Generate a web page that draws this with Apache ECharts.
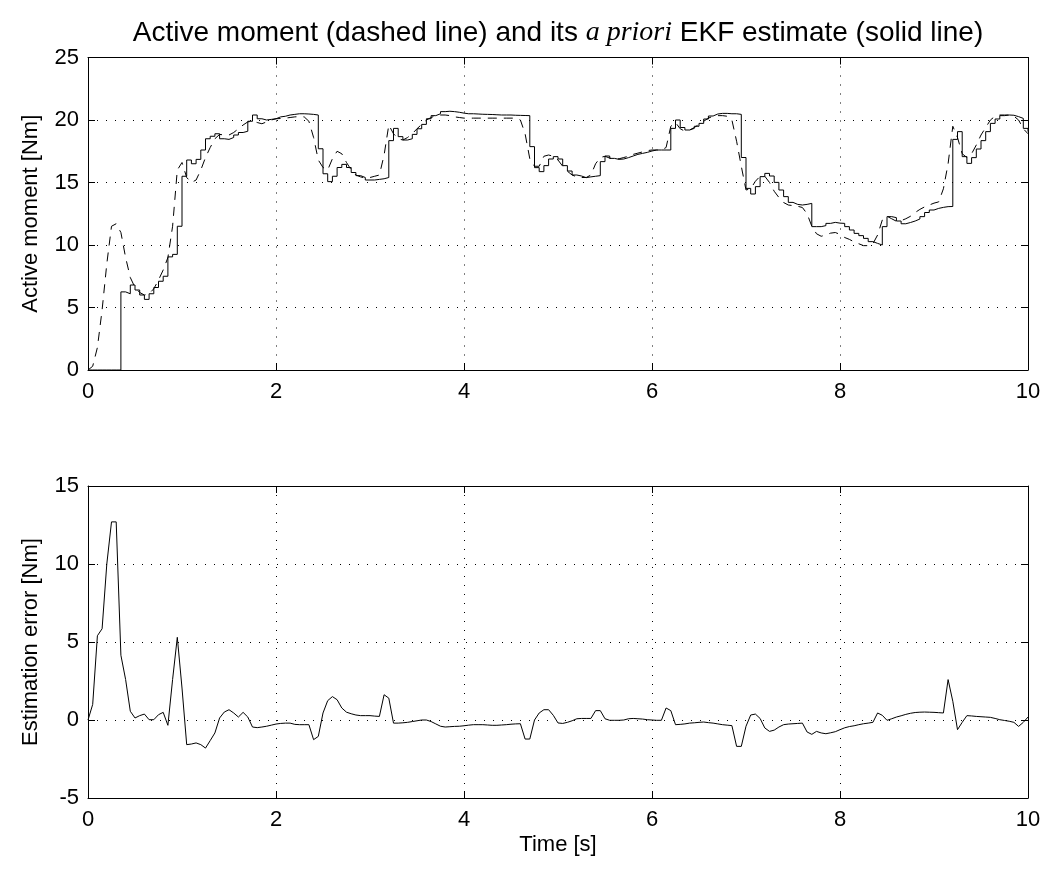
<!DOCTYPE html>
<html>
<head>
<meta charset="utf-8">
<script src="https://cdn.jsdelivr.net/npm/echarts@6/dist/echarts.min.js"></script>
<style>
html,body{margin:0;padding:0;background:#fff;}
#chart{width:1048px;height:872px;}
</style>
</head>
<body>
<div id="chart"></div>
<script>
// sample period of the data [s]
var dt = 0.05;
var xTicks = [0, 2, 4, 6, 8, 10];

// a priori EKF estimate (solid, staircase), samples at t = 0, 0.05, ..., 10
var estimate = [
  0,0,0,0,0,0,0,6.25,6.1,6.8,6.4,6.0,5.65,6.1,6.6,7.1,7.5,9.05,9.25,11.5,
  15.5,16.8,16.5,16.85,17.6,18.5,18.7,18.9,18.5,18.45,18.6,18.8,19.0,19.1,19.9,20.4,20.1,20.0,20.05,20.1,
  20.25,20.3,20.4,20.45,20.5,20.5,20.48,20.45,20.4,17.7,15.7,15.07,15.5,16.2,16.45,16.2,15.8,15.55,15.4,15.2,
  15.2,15.25,15.3,15.4,18.35,19.33,18.67,18.4,18.5,18.85,19.3,19.65,20.1,20.35,20.5,20.67,20.7,20.67,20.62,20.55,
  20.5,20.5,20.48,20.46,20.45,20.44,20.42,20.4,20.4,20.4,20.38,20.37,20.36,20.35,17.87,16.19,15.87,16.35,16.88,17.07,
  16.88,16.35,15.92,15.6,15.52,15.39,15.45,15.5,15.55,16.67,17.12,16.93,16.85,16.88,16.99,17.12,17.25,17.33,17.41,17.52,
  17.6,17.6,17.6,17.6,19.33,20.0,19.4,19.2,19.33,19.5,19.73,20.08,20.32,20.48,20.53,20.53,20.5,20.5,20.45,17.0,
  14.53,14.08,14.67,15.47,15.73,15.52,15.01,14.4,13.87,13.41,13.25,13.2,13.25,13.33,11.47,11.47,11.55,11.73,11.81,11.75,
  11.73,11.47,11.2,10.93,10.75,10.53,10.27,10.13,10.0,11.47,12.27,12.19,11.92,11.7,11.8,11.92,12.08,12.27,12.6,12.8,
  12.93,13.01,13.07,13.08,18.45,19.07,17.07,16.53,16.99,17.68,18.35,19.07,19.73,20.08,20.35,20.4,20.38,20.27,20.13,19.33,
  19.07
];

// active moment (dashed)
var actual = [
  0,0.3,1.8,4.8,8.5,11.5,11.7,11.0,9.0,7.4,6.6,6.2,6.0,6.1,6.5,7.2,8.0,9.0,11.5,16.0,
  16.6,15.4,15.0,15.2,16.0,17.0,17.8,18.5,18.85,18.8,18.8,19.0,19.3,19.6,19.85,19.9,19.8,19.7,19.85,20.0,
  20.1,20.12,20.15,20.2,20.25,20.27,20.25,19.9,18.6,16.8,16.2,16.0,16.9,17.5,17.3,16.6,16.0,15.6,15.45,15.35,
  15.4,15.5,15.6,17.2,19.6,18.9,18.5,18.4,18.6,18.9,19.3,19.65,20.0,20.2,20.35,20.4,20.4,20.35,20.25,20.2,
  20.15,20.15,20.15,20.15,20.15,20.15,20.15,20.15,20.15,20.15,20.15,20.15,20.0,18.9,16.9,16.3,16.3,17.1,17.2,17.1,
  16.8,16.3,15.9,15.6,15.45,15.4,15.4,15.6,16.5,17.0,17.1,16.95,16.9,16.9,17.0,17.1,17.25,17.35,17.45,17.55,
  17.6,17.6,17.6,17.8,19.5,19.8,19.3,19.1,19.2,19.4,19.65,19.9,20.15,20.3,20.35,20.35,20.3,20.0,18.3,16.3,
  14.4,14.5,15.1,15.5,15.5,15.0,14.3,13.8,13.4,13.2,13.15,13.1,13.0,12.5,11.5,10.9,10.7,10.8,10.95,11.0,
  10.85,10.6,10.45,10.25,10.1,9.95,9.95,10.1,10.8,12.0,12.3,12.1,11.9,11.95,12.1,12.3,12.6,12.85,13.05,13.2,
  13.35,13.45,14.5,16.5,19.5,18.6,17.3,17.0,17.3,18.0,18.8,19.4,20.0,20.3,20.4,20.4,20.4,20.3,20.0,19.3,
  18.9
];

// estimation error
var estError = [
  0,1.0,5.4,5.85,10.0,12.7,12.7,4.15,2.6,0.56,0.13,0.28,0.38,0.02,0.02,0.34,0.49,-0.34,2.6,5.3,
  2.05,-1.58,-1.54,-1.47,-1.58,-1.8,-1.32,-0.83,0.13,0.51,0.66,0.45,0.19,0.49,0.19,-0.45,-0.49,-0.45,-0.4,-0.33,
  -0.26,-0.22,-0.2,-0.2,-0.28,-0.3,-0.3,-0.3,-1.26,-1.05,0.45,1.24,1.5,1.3,0.77,0.5,0.4,0.32,0.28,0.28,
  0.28,0.25,0.23,1.62,1.4,-0.2,-0.2,-0.18,-0.15,-0.1,-0.05,0.0,0.0,-0.1,-0.25,-0.4,-0.45,-0.43,-0.41,-0.4,
  -0.37,-0.33,-0.3,-0.3,-0.3,-0.32,-0.34,-0.34,-0.32,-0.3,-0.27,-0.25,-0.24,-1.22,-1.22,0.0,0.45,0.66,0.66,0.3,
  -0.19,-0.22,-0.15,-0.05,0.08,0.1,0.1,0.1,0.6,0.6,0.08,-0.02,-0.02,-0.02,0.0,0.08,0.1,0.08,0.06,0.02,
  0.0,-0.02,-0.02,0.77,0.6,-0.3,-0.28,-0.25,-0.2,-0.18,-0.15,-0.13,-0.17,-0.2,-0.25,-0.3,-0.33,-0.36,-1.69,-1.69,
  -0.4,0.32,0.38,0.1,-0.51,-0.73,-0.65,-0.45,-0.3,-0.26,-0.24,-0.22,-0.2,-0.77,-0.92,-0.73,-0.83,-0.88,-0.82,-0.75,
  -0.62,-0.5,-0.42,-0.37,-0.3,-0.24,-0.2,-0.15,0.45,0.3,-0.02,0.08,0.19,0.27,0.36,0.43,0.48,0.5,0.51,0.5,
  0.49,0.47,0.45,2.59,1.2,-0.62,-0.15,0.28,0.26,0.23,0.21,0.19,0.17,0.1,0.02,-0.03,-0.08,-0.15,-0.41,-0.15,
  0.19
];

function pairs(arr) {
  return arr.map(function (v, i) { return [Math.round(i * dt * 100) / 100, v]; });
}

var FONT = 'Liberation Sans, Arial, Helvetica, sans-serif';
var black = '#000';

function xAx(grid, pos, main, name) {
  return {
    type: 'value', gridIndex: grid, position: pos, min: 0, max: 10, interval: 2,
    axisLine: { show: true, onZero: false, lineStyle: { color: black, width: 1 } },
    axisTick: { show: true, inside: true, length: 7, lineStyle: { color: black, width: 1 } },
    axisLabel: { show: main, fontSize: 22, color: black, fontFamily: FONT, margin: 11 },
    splitLine: { show: main, lineStyle: { color: black, width: 1, type: [1, 8] } },
    name: name || '', nameLocation: 'middle', nameGap: 36,
    nameTextStyle: { fontSize: 22, color: black, fontFamily: FONT }
  };
}
function yAx(grid, pos, main, mn, mx, name) {
  return {
    type: 'value', gridIndex: grid, position: pos, min: mn, max: mx, interval: 5,
    axisLine: { show: true, onZero: false, lineStyle: { color: black, width: 1 } },
    axisTick: { show: true, inside: true, length: 7, lineStyle: { color: black, width: 1 } },
    axisLabel: { show: main, fontSize: 22, color: black, fontFamily: FONT, margin: 9 },
    splitLine: { show: main, lineStyle: { color: black, width: 1, type: [1, 8] } },
    name: name || '', nameLocation: 'middle', nameGap: 46, nameRotate: 90,
    nameTextStyle: { fontSize: 22, color: black, fontFamily: FONT }
  };
}

var chart = echarts.init(document.getElementById('chart'), null, { renderer: 'canvas' });
chart.setOption({
  animation: false,
  backgroundColor: '#fff',
  grid: [
    { left: 88, top: 57.5, width: 940, height: 312.5 },
    { left: 88, top: 486, width: 940, height: 312 }
  ],
  xAxis: [
    xAx(0, 'bottom', true),
    xAx(0, 'top', false),
    xAx(1, 'bottom', true, 'Time [s]'),
    xAx(1, 'top', false)
  ],
  yAxis: [
    yAx(0, 'left', true, 0, 25, 'Active moment [Nm]'),
    yAx(0, 'right', false, 0, 25),
    yAx(1, 'left', true, -5, 15, 'Estimation error [Nm]'),
    yAx(1, 'right', false, -5, 15)
  ],
  graphic: [{
    type: 'text', x: 558, y: 33,
    style: {
      text: '{n|Active moment (dashed line) and its }{i|a priori}{n| EKF estimate (solid line)}',
      align: 'center', verticalAlign: 'middle',
      rich: {
        n: { fontSize: 28, fontFamily: FONT, fill: black },
        i: { fontSize: 28, fontFamily: 'Liberation Serif, DejaVu Serif, serif', fontStyle: 'italic', fill: black }
      }
    }
  }],
  series: [
    {
      type: 'line', xAxisIndex: 0, yAxisIndex: 0, data: pairs(actual),
      showSymbol: false, symbol: 'none',
      lineStyle: { color: black, width: 1, type: [9, 7] }
    },
    {
      type: 'line', xAxisIndex: 0, yAxisIndex: 0, data: pairs(estimate), step: 'end',
      showSymbol: false, symbol: 'none',
      lineStyle: { color: black, width: 1 }
    },
    {
      type: 'line', xAxisIndex: 2, yAxisIndex: 2, data: pairs(estError),
      showSymbol: false, symbol: 'none',
      lineStyle: { color: black, width: 1 }
    }
  ]
});
</script>
</body>
</html>
